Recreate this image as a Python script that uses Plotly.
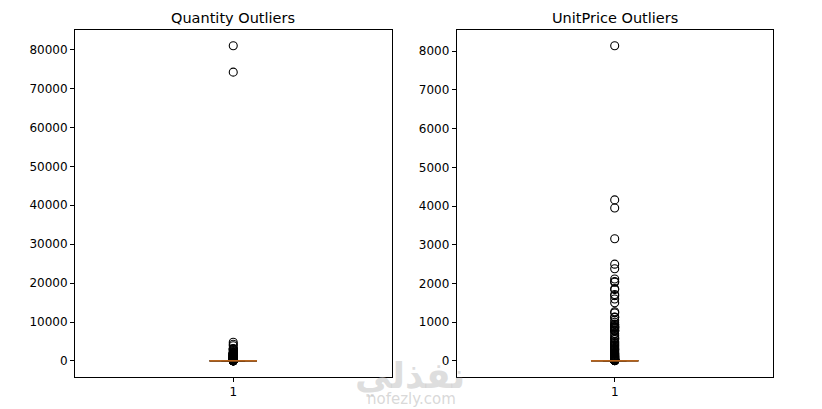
import plotly.graph_objects as go

# ---- data ----
titles = ["Quantity Outliers", "UnitPrice Outliers"]
x_tick_labels = ["1"]

qty_stats = dict(q1=2, median=6, q3=12, lowerfence=1, upperfence=27)
qty_outliers = [80995, 74215, 4800, 4300, 3906, 3186, 3114, 3000, 2880, 2700, 2400,
                2160, 2100, 2000, 1992, 1944, 1930, 1900, 1878, 1824, 1788, 1728, 1600,
                1540, 1515, 1500, 1440, 1412, 1400, 1394, 1356, 1300, 1296, 1200, 1152,
                1120, 1056, 1010, 1000, 960, 912, 900, 864, 800, 768, 756, 750, 720, 700,
                672, 640, 600, 576, 500, 480, 432, 400, 384, 360, 350, 320, 300, 288, 250,
                240, 216, 200, 192, 180, 160, 150, 144, 128, 120, 100, 96, 80, 72, 64, 60,
                50, 48, 40, 36, 32, 30, 28]

price_stats = dict(q1=1.25, median=1.95, q3=3.75, lowerfence=0.001, upperfence=7.5)
price_outliers = [8142.75, 4161.06, 3949.32, 3155.95, 2500.00, 2382.92, 2118.74,
                  2053.07, 2033.10, 1867.86, 1843.73, 1715.85, 1687.17, 1599.26, 1500.36,
                  1270.06, 1241.98, 1136.30, 1126.00, 1050.15, 1000.00, 950.99, 938.80,
                  910.94, 887.52, 878.55, 869.55, 850.50, 840.00, 800.00, 795.00, 773.04,
                  770.00, 700.00, 649.50, 600.00, 580.00, 550.94, 500.00, 478.00, 450.00,
                  425.00, 400.00, 376.50, 350.00, 325.00, 300.00, 295.00, 275.60, 250.00,
                  225.00, 200.00, 195.00, 175.00, 165.00, 150.00, 140.00, 125.00, 120.00,
                  110.00, 100.00, 95.00, 85.00, 75.00, 65.00, 60.00, 50.00, 45.00, 40.00,
                  39.95, 35.00, 32.69, 29.95, 25.00, 24.96, 21.95, 19.95, 18.00, 16.95,
                  15.00, 14.95, 12.75, 12.50, 10.95, 9.95, 8.50, 8.25, 7.95]

panels = [(qty_stats, qty_outliers, 10000), (price_stats, price_outliers, 1000)]

FONT = "DejaVu Sans"
BOX_POS = 1
BOX_W = 0.15
MEDIAN_COLOR = "#f08020"

# page body adds an 8px margin; figure is sized to fill the rest of the window
OFF = 8
W, H = 822 - OFF, 409 - OFF


def px(x):
    return (x - OFF) / W


def py(y):
    return 1 - (y - OFF) / H


fig = go.Figure()
x_domains = [[px(75), px(391.5)], [px(456.7), px(772.7)]]
y_domain = [py(376.7), py(30)]

layout = dict(
    width=W, height=H,
    margin=dict(l=0, r=0, t=0, b=0),
    paper_bgcolor="white", plot_bgcolor="white",
    showlegend=False,
    font=dict(family=FONT, size=12, color="black"),
    annotations=[],
)

for i, (stats, outliers, dtick) in enumerate(panels):
    xa = "x" if i == 0 else "x2"
    ya = "y" if i == 0 else "y2"
    fig.add_trace(go.Box(
        x=[BOX_POS], q1=[stats["q1"]], median=[stats["median"]], q3=[stats["q3"]],
        lowerfence=[stats["lowerfence"]], upperfence=[stats["upperfence"]],
        width=BOX_W, whiskerwidth=0.5, fillcolor="rgba(0,0,0,0)",
        line=dict(color="black", width=1), xaxis=xa, yaxis=ya, hoverinfo="skip",
    ))
    fig.add_trace(go.Scatter(
        x=[BOX_POS] * len(outliers), y=outliers, mode="markers",
        marker=dict(symbol="circle-open", size=8, color="black", line=dict(width=1.1)),
        xaxis=xa, yaxis=ya, hoverinfo="skip",
    ))
    fig.add_trace(go.Scatter(
        x=[BOX_POS - BOX_W / 2, BOX_POS + BOX_W / 2], y=[stats["median"]] * 2,
        mode="lines", line=dict(color=MEDIAN_COLOR, width=1.3),
        xaxis=xa, yaxis=ya, hoverinfo="skip",
    ))
    lo = min(min(outliers), stats["lowerfence"])
    hi = max(max(outliers), stats["upperfence"])
    pad = (hi - lo) * 0.05
    axis_common = dict(showline=True, linecolor="black", linewidth=1, mirror=True,
                       ticks="outside", ticklen=4, tickwidth=1, tickcolor="black",
                       showgrid=False, zeroline=False,
                       tickfont=dict(family=FONT, size=12, color="black"))
    layout["xaxis" if i == 0 else "xaxis2"] = dict(
        domain=x_domains[i], range=[0.5, 1.5], tickvals=[BOX_POS], ticktext=x_tick_labels,
        anchor=ya, **axis_common)
    layout["yaxis" if i == 0 else "yaxis2"] = dict(
        domain=y_domain, range=[lo - pad, hi + pad], dtick=dtick, tick0=0,
        tickformat="d", anchor=xa, **axis_common)
    layout["annotations"].append(dict(
        text=titles[i], x=sum(x_domains[i]) / 2, y=py(18), xref="paper", yref="paper",
        showarrow=False, font=dict(family=FONT, size=14.5, color="black"),
        xanchor="center", yanchor="middle"))

# faint watermark from the source image
layout["annotations"].append(dict(
    text="<b>نفذلي</b>", x=px(410), y=py(376), xref="paper", yref="paper",
    showarrow=False, font=dict(family=FONT, size=36, color="rgba(200,200,200,0.6)"),
    xanchor="center", yanchor="middle"))
layout["annotations"].append(dict(
    text="nofezly.com", x=px(411), y=py(399), xref="paper", yref="paper",
    showarrow=False, font=dict(family=FONT, size=15, color="rgba(200,200,200,0.7)"),
    xanchor="center", yanchor="middle"))

fig.update_layout(**layout)
fig.write_html("out.html")
